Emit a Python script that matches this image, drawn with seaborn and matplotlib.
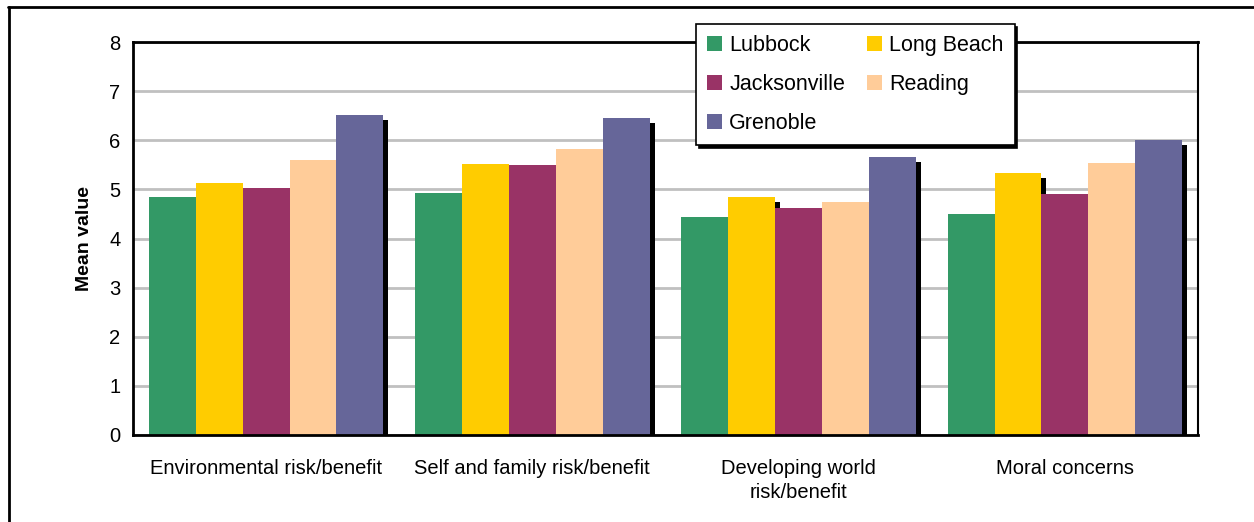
import numpy as np
import pandas as pd
import matplotlib
matplotlib.use("Agg")
import matplotlib.pyplot as plt
import matplotlib.transforms as mtransforms
from matplotlib.patches import Patch, Rectangle
from matplotlib.lines import Line2D
import seaborn as sns

# ============================
# Data
# ============================
categories = ["Environmental risk/benefit", "Self and family risk/benefit",
              "Developing world\nrisk/benefit", "Moral concerns"]
cities = ["Lubbock", "Long Beach", "Jacksonville", "Reading", "Grenoble"]

lubbock = [4.85, 4.93, 4.44, 4.50]
long_beach = [5.13, 5.52, 4.85, 5.34]
jacksonville = [5.03, 5.50, 4.62, 4.91]
reading = [5.60, 5.82, 4.75, 5.54]
grenoble = [6.52, 6.45, 5.66, 6.01]

colors = ["#339966", "#FFCC00", "#993366", "#FFCC99", "#666699"]

series = [lubbock, long_beach, jacksonville, reading, grenoble]
df = pd.DataFrame({
    "category": np.tile(categories, len(cities)),
    "city": np.repeat(cities, len(categories)),
    "value": np.concatenate(series),
})

# ============================
# Plot
# ============================
sns.set_style("white")
plt.rcParams["font.family"] = ["Liberation Sans", "DejaVu Sans"]
plt.rcParams["text.color"] = "black"
plt.rcParams["axes.labelcolor"] = "black"
plt.rcParams["xtick.color"] = "black"
plt.rcParams["ytick.color"] = "black"

fig = plt.figure(figsize=(12.54, 5.22), dpi=100)
ax = fig.add_axes([133 / 1254, 1 - 435 / 522, (1198 - 133) / 1254, (435 - 42) / 522])

sns.barplot(data=df, x="category", y="value", hue="city", order=categories,
            hue_order=cities, palette=colors, saturation=1, width=0.88,
            gap=0, legend=False, ax=ax, zorder=2)

# black drop shadow behind each bar
shift = mtransforms.ScaledTranslation(5 / 100, -5 / 100, fig.dpi_scale_trans)
bars = list(ax.patches)
for bar in bars:
    bar.set_edgecolor("none")
    sh = Rectangle(bar.get_xy(), bar.get_width(), bar.get_height(),
                   facecolor="black", edgecolor="none",
                   transform=ax.transData + shift, zorder=1.5)
    ax.add_patch(sh)

ax.set_ylim(0, 8)
ax.set_xlim(-0.5, 3.5)
ax.set_yticks(range(0, 9))
ax.yaxis.grid(True, color="#c0c0c0", linewidth=2)
ax.set_axisbelow(True)

ax.set_xticks(range(4))
ax.set_xticklabels(categories, fontsize=14.5, linespacing=1.35)
ax.set_xticks(np.arange(-0.5, 4.0, 1.0), minor=True)
ax.tick_params(axis="x", which="major", length=0, pad=17, labelcolor="black")
ax.tick_params(axis="x", which="minor", length=6, width=1.2, color="black")
ax.tick_params(axis="y", length=6, width=2, color="#c0c0c0", labelsize=14.5,
               pad=3, labelcolor="black")

ax.set_xlabel("")
ax.set_ylabel("Mean value", fontsize=14, fontweight="bold", labelpad=12,
              color="black")

for side in ["left", "bottom", "top"]:
    ax.spines[side].set_color("black")
    ax.spines[side].set_linewidth(2)
ax.spines["right"].set_color("black")
ax.spines["right"].set_linewidth(1.5)

# legend, column-major order to match the reference
order = [0, 2, 4, 1, 3]
handles = [Patch(facecolor=colors[i], edgecolor="none") for i in order]
labels = [cities[i] for i in order]
leg = fig.legend(handles, labels, ncol=2, loc="upper left",
                 bbox_to_anchor=(696 / 1254, 1 - 24 / 522), fontsize=15.5,
                 frameon=True, fancybox=False, edgecolor="black",
                 shadow={"color": "black", "alpha": 1}, handlelength=0.7,
                 handleheight=0.7, handletextpad=0.35, columnspacing=1.0,
                 labelspacing=0.85, borderpad=0.5, borderaxespad=0,
                 labelcolor="black")
leg.get_frame().set_linewidth(1.2)

# outer frame (top and left edges)
fig.add_artist(Line2D([8 / 1254, 1], [1 - 7 / 522, 1 - 7 / 522],
                      color="black", linewidth=2, transform=fig.transFigure))
fig.add_artist(Line2D([9 / 1254, 9 / 1254], [0, 1 - 7 / 522],
                      color="black", linewidth=2, transform=fig.transFigure))

plt.savefig("out.png", dpi=100)
